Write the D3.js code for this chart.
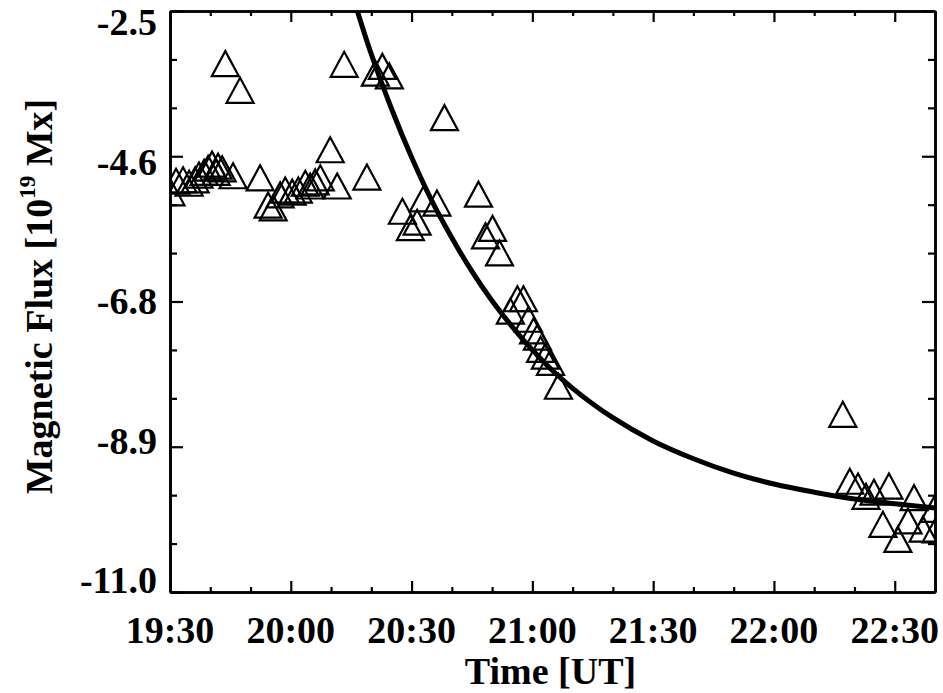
<!DOCTYPE html>
<html>
<head>
<meta charset="utf-8">
<script src="https://cdn.jsdelivr.net/npm/d3@7"></script>
<style>
  html, body { margin: 0; padding: 0; background: #fff; }
  svg { display: block; }
  text { font-family: "Liberation Serif", "Times New Roman", serif; font-weight: bold; fill: #000; }
</style>
</head>
<body>
<svg id="chart" width="943" height="693"></svg>
<script>
// ---- data (decimal UT hours, flux in 1e19 Mx) ----
const obsTime = [19.504,19.525,19.554,19.579,19.604,19.620,19.641,19.658,19.674,19.691,19.699,19.716,19.729,19.761,19.790,
  19.873,19.906,19.927,19.956,19.977,20.006,20.031,20.060,20.080,20.101,20.122,20.163,20.192,20.221,20.315,
  20.350,20.379,20.408,20.462,20.495,20.523,20.549,20.605,20.636,20.777,20.806,20.835,20.864,
  20.909,20.938,20.963,20.984,21.005,21.021,21.034,21.054,21.075,21.108,
  22.285,22.314,22.348,22.381,22.414,22.451,22.476,22.513,22.555,22.580,22.617,22.663,22.671];
const obsFlux = [-5.16,-4.99,-4.97,-5.02,-4.97,-4.90,-4.86,-4.80,-4.74,-4.86,-4.77,-4.81,-3.27,-4.91,-3.66,
  -4.94,-5.34,-5.38,-5.19,-5.12,-5.15,-5.12,-5.02,-5.06,-5.00,-4.94,-4.53,-5.06,-3.28,-4.93,
  -3.41,-3.31,-3.45,-5.43,-5.67,-5.59,-5.25,-5.31,-4.06,-5.18,-5.79,-5.68,-6.04,
  -6.89,-6.71,-6.71,-7.01,-7.18,-7.27,-7.45,-7.55,-7.64,-7.99,
  -8.40,-9.38,-9.45,-9.60,-9.54,-10.01,-9.45,-10.23,-9.96,-9.62,-10.08,-9.79,-10.09];

const fitTime = [20.25,20.333,20.417,20.5,20.583,20.667,20.75,20.833,20.917,21.0,21.083,21.167,21.333,21.5,21.667,21.833,22.0,22.167,22.333,22.5,22.667];
const fitFlux = [-2.21,-3.13,-3.93,-4.64,-5.27,-5.82,-6.31,-6.74,-7.12,-7.46,-7.76,-8.02,-8.45,-8.79,-9.05,-9.26,-9.42,-9.54,-9.64,-9.71,-9.77];

const xTickValues = [19.5, 20, 20.5, 21, 21.5, 22, 22.5];
const xTickLabels = ["19:30","20:00","20:30","21:00","21:30","22:00","22:30"];
const yTickValues = [-2.5, -4.625, -6.75, -8.875, -11.0];
const yTickLabels = ["-2.5","-4.6","-6.8","-8.9","-11.0"];
const xDomain = [19.5, 22.6667];
const yDomain = [-11.0, -2.5];

// ---- layout ----
const L = 170, R = 935, T = 11, B = 592;
const svg = d3.select("#chart");
const x = d3.scaleLinear().domain(xDomain).range([L, R]);
const y = d3.scaleLinear().domain(yDomain).range([B, T]);
// label placement scale (labels are set slightly inside the ends)
const yLab = d3.scaleLinear().domain(yDomain).range([593, 35]);

const xMinor = d3.range(0, 20).map(i => 19.5 + i / 6).filter(v => v <= xDomain[1] + 1e-6 && !xTickValues.some(t => Math.abs(t - v) < 1e-6));
const yMinor = d3.range(0, 13).map(i => -11 + i * 8.5 / 12).filter(v => !yTickValues.some(t => Math.abs(t - v) < 1e-6));

svg.append("defs").append("clipPath").attr("id", "plotclip")
  .append("rect").attr("x", L).attr("y", T).attr("width", R - L).attr("height", B - T);

// ---- data marks ----
const plot = svg.append("g").attr("clip-path", "url(#plotclip)");
const tri = "M0,-12.5L13.5,12.5L-13.5,12.5Z";
plot.selectAll("path.tri").data(obsTime.map((t, i) => [t, obsFlux[i]]))
  .enter().append("path").attr("class", "tri")
  .attr("d", tri)
  .attr("transform", d => `translate(${x(d[0])},${y(d[1])})`)
  .attr("fill", "none").attr("stroke", "#000").attr("stroke-width", 2.2)
  .attr("stroke-linejoin", "miter");

const line = d3.line().x(d => x(d[0])).y(d => y(d[1])).curve(d3.curveMonotoneX);
plot.append("path").datum(fitTime.map((t, i) => [t, fitFlux[i]]))
  .attr("d", line).attr("fill", "none").attr("stroke", "#000").attr("stroke-width", 5);

// ---- axes (ticks inward on all four sides) ----
function styleAxis(g) {
  g.selectAll("text").remove();
  g.select(".domain").attr("stroke", "#000").attr("stroke-width", 2.6);
  g.selectAll(".tick line").attr("stroke", "#000").attr("stroke-width", 2.2);
}
svg.append("g").attr("transform", `translate(0,${B})`)
  .call(d3.axisBottom(x).tickValues(xTickValues).tickSize(-11).tickSizeOuter(0)).call(styleAxis);
svg.append("g").attr("transform", `translate(0,${B})`)
  .call(d3.axisBottom(x).tickValues(xMinor).tickSize(-5).tickSizeOuter(0)).call(styleAxis);
svg.append("g").attr("transform", `translate(0,${T})`)
  .call(d3.axisTop(x).tickValues(xTickValues).tickSize(-11).tickSizeOuter(0)).call(styleAxis);
svg.append("g").attr("transform", `translate(0,${T})`)
  .call(d3.axisTop(x).tickValues(xMinor).tickSize(-5).tickSizeOuter(0)).call(styleAxis);
svg.append("g").attr("transform", `translate(${L},0)`)
  .call(d3.axisLeft(y).tickValues(yTickValues).tickSize(-13).tickSizeOuter(0)).call(styleAxis);
svg.append("g").attr("transform", `translate(${L},0)`)
  .call(d3.axisLeft(y).tickValues(yMinor).tickSize(-7).tickSizeOuter(0)).call(styleAxis);
svg.append("g").attr("transform", `translate(${R},0)`)
  .call(d3.axisRight(y).tickValues(yTickValues).tickSize(-13).tickSizeOuter(0)).call(styleAxis);
svg.append("g").attr("transform", `translate(${R},0)`)
  .call(d3.axisRight(y).tickValues(yMinor).tickSize(-7).tickSizeOuter(0)).call(styleAxis);

// ---- tick labels ----
svg.append("g").selectAll("text").data(xTickValues).enter().append("text")
  .attr("x", d => x(d)).attr("y", 643).attr("text-anchor", "middle")
  .style("font-size", "38px").text((d, i) => xTickLabels[i]);
svg.append("g").selectAll("text").data(yTickValues).enter().append("text")
  .attr("x", 157).attr("y", d => yLab(d)).attr("text-anchor", "end")
  .style("font-size", "38px").text((d, i) => yTickLabels[i]);

// ---- axis titles ----
svg.append("text").attr("x", (L + R) / 2 - 2).attr("y", 684).attr("text-anchor", "middle")
  .style("font-size", "38px").text("Time [UT]");
const yt = svg.append("text").attr("transform", `translate(52,${(T + B) / 2 - 5}) rotate(-90)`)
  .attr("text-anchor", "middle").style("font-size", "38px");
yt.append("tspan").text("Magnetic Flux [10");
yt.append("tspan").attr("dy", -17).style("font-size", "23px").text("19");
yt.append("tspan").attr("dy", 17).text(" Mx]");
</script>
</body>
</html>
